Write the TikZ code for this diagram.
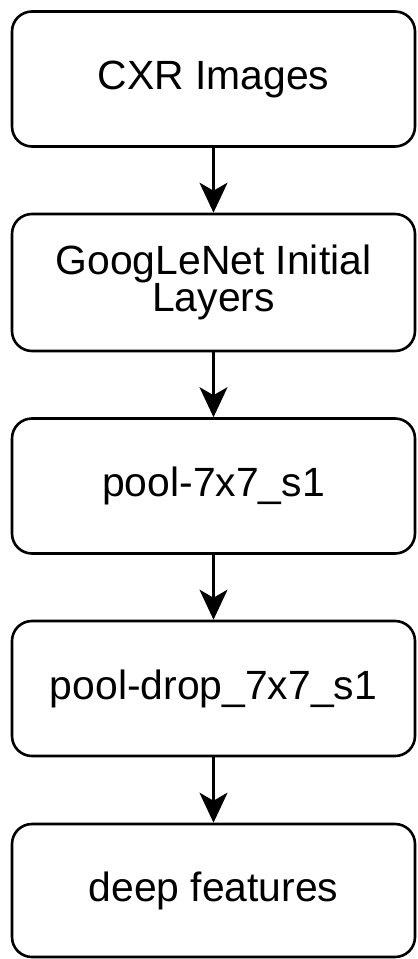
\documentclass[tikz,border=0pt]{standalone}
\usepackage{fontspec}
\setmainfont{Liberation Sans}
\usetikzlibrary{arrows.meta}
\begin{document}
\begin{tikzpicture}[x=1bp,y=-1bp,
  stepbox/.style={draw=black, line width=2.6bp, rounded corners=20bp, fill=white,
    minimum width=403bp, minimum height=135bp, align=center, inner sep=0pt,
    font=\fontsize{41}{38}\selectfont},
  flow/.style={draw=black, line width=2.6bp,
    -{Stealth[length=30bp,width=28bp,inset=8bp]}}]
\useasboundingbox (0,0) rectangle (417,959);
\fill[white] (0,0) rectangle (417,959);
\node[stepbox] (a) at (213.5,79) {CXR Images};
\node[stepbox, minimum height=137bp] (b) at (213.5,282.5) {GoogLeNet Initial\\Layers};
\node[stepbox] (c) at (213.5,486) {pool-7x7\_s1};
\node[stepbox] (d) at (213.5,688.5) {pool-drop\_7x7\_s1};
\node[stepbox, minimum height=133bp] (e) at (213.5,890.5) {deep features};
\draw[flow] (a) -- (b);
\draw[flow] (b) -- (c);
\draw[flow] (c) -- (d);
\draw[flow] (d) -- (e);
\end{tikzpicture}
\end{document}
